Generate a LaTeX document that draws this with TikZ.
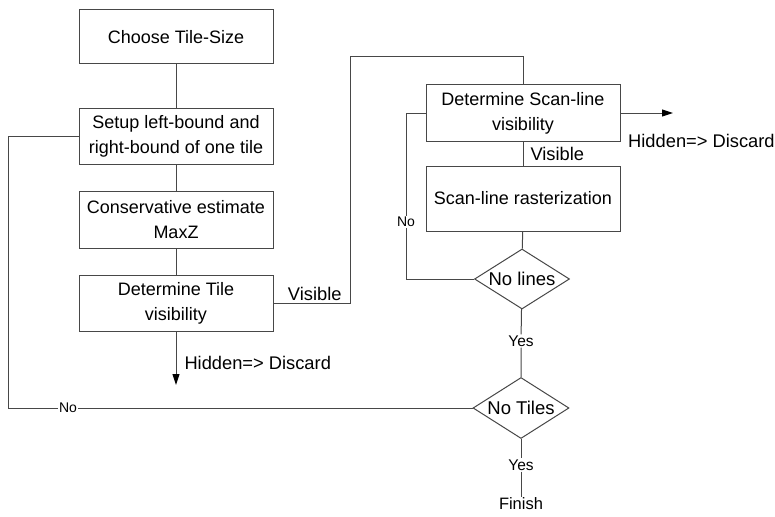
\documentclass[tikz,border=0pt]{standalone}
\usepackage{fontspec}
\setmainfont{Liberation Sans}
\usetikzlibrary{shapes.geometric,arrows.meta}
\begin{document}
\begin{tikzpicture}[x=1pt,y=-1pt,
  line/.style={draw=black!72, line width=1pt},
  box/.style={line, rectangle, minimum width=194pt, inner sep=0pt, align=center,
    font=\fontsize{18}{25}\selectfont},
  decide/.style={line, diamond, minimum width=95pt, minimum height=60pt, inner sep=0pt,
    label={[font=\fontsize{18.5}{22}\selectfont, inner sep=0pt]center:#1}},
  lbl/.style={inner sep=1pt, font=\fontsize{18.3}{21}\selectfont},
  small/.style={inner sep=1pt, fill=white, font=\fontsize{15.5}{18}\selectfont},
  tip/.style={-{Triangle[length=11pt,width=7pt,color=black,fill=black]}}]
\useasboundingbox (0,0) rectangle (775,516);

% left column: per-tile steps
\node[box, minimum height=54pt] (choose) at (176,37) {Choose Tile-Size};
\node[box, minimum height=56pt] (setup) at (176,136) {Setup left-bound and\\right-bound of one tile};
\node[box, minimum height=57pt] (cons) at (176,219.5) {Conservative estimate\\MaxZ};
\node[box, minimum height=56pt] (tile) at (176,303) {Determine Tile\\visibility};

% right column: per-scan-line steps
\node[box, minimum height=56pt] (scan) at (523,113) {Determine Scan-line\\visibility};
\node[box, minimum height=65pt] (rast) at (523,198.5) {Scan-line rasterization};
\node[decide=No lines] (nolines) at (522,279) {};
\node[decide=No Tiles, minimum width=96pt, minimum height=61pt] (notiles) at (521,408) {};

% labels that sit on or beside connectors
\node[small] (yes1) at (521,341) {Yes};
\node[small] (yes2) at (521,465) {Yes};
\node[small, font=\fontsize{16.5}{20}\selectfont] (finish) at (521,504) {Finish};
\node[small, font=\fontsize{14}{17}\selectfont] (no1) at (68,408) {No};
\node[small, font=\fontsize{14}{17}\selectfont] (no2) at (406,222) {No};

\coordinate (hid1) at (176,385);
\coordinate (hid2) at (673,113);
\coordinate (lb) at (8,136);
\coordinate (lt) at (8,408);
\coordinate (va) at (350,303);
\coordinate (vb) at (350,57);
\coordinate (vc) at (523,57);
\coordinate (na) at (406,279);
\coordinate (nb) at (406,113);

% main column connectors
\draw[line] (choose) -- (setup);
\draw[line] (setup) -- (cons);
\draw[line] (cons) -- (tile);
\draw[line, tip] (tile) -- (hid1) node[lbl, pos=0.59, anchor=west, xshift=7pt] {Hidden=> Discard};

% visible tiles go to scan-line processing
\draw[line] (tile.east) -- (va) node[lbl, pos=0.5, anchor=south, xshift=3pt, yshift=1pt] {Visible} -- (vb) -- (vc) -- (scan.north);
\draw[line, tip] (scan.east) -- (hid2);
\node[lbl, anchor=north west] at (627,133) {Hidden=> Discard};
\draw[line] (scan) -- (rast) node[lbl, pos=0.5, anchor=west, xshift=6pt] {Visible};
\draw[line] (rast) -- (nolines);

% scan-line loop
\draw[line] (nolines.west) -- (na) -- (no2) -- (nb) -- (scan.west);

% tile loop
\draw[line] (nolines) -- (yes1) -- (notiles);
\draw[line] (notiles.west) -- (no1) -- (lt) -- (lb) -- (setup.west);
\draw[line] (notiles) -- (yes2) -- (finish);
\end{tikzpicture}
\end{document}
